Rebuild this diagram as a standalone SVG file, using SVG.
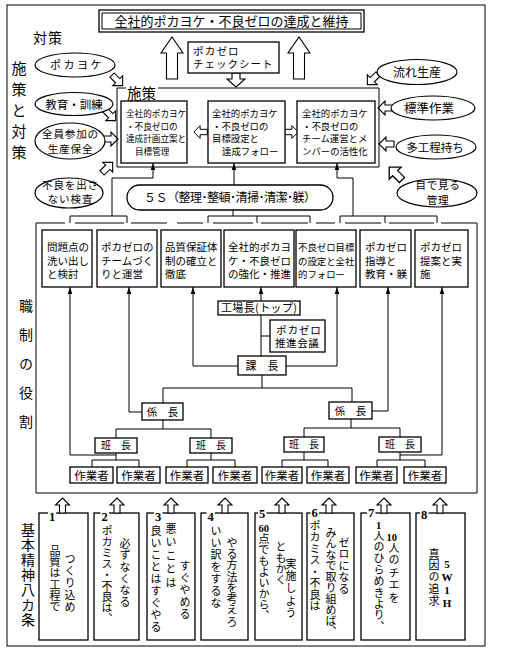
<svg xmlns="http://www.w3.org/2000/svg" xmlns:xlink="http://www.w3.org/1999/xlink" width="528" height="653" viewBox="0 0 528 653">
<style>
.t{font-family:"Noto Sans CJK JP","Noto Sans CJK SC",sans-serif;fill:#000}
.sf{font-family:"Liberation Serif","Noto Sans CJK JP",serif;fill:#000}
.v{writing-mode:vertical-rl}
.up{text-orientation:upright}
.bx{fill:#fff;stroke:#000;stroke-width:1.3}
.ov{fill:#fff;stroke:#000;stroke-width:1.2}
.ln{fill:none;stroke:#000;stroke-width:1}
.ha{fill:#fff;stroke:#000;stroke-width:1.1;stroke-linejoin:miter}
</style>
<defs>
<path id="ha" class="ha" d="M0,-8 L7,-1 L3,-1 L3,7 L-3,7 L-3,-1 L-7,-1 Z"/>
<path id="ua" class="ha" d="M0,0 L7,7 L3,7 L3,15 L-3,15 L-3,7 L-7,7 Z"/>
<path id="big" class="ha" d="M0,0 L11,16 L5.5,16 L5.5,42 L-5.5,42 L-5.5,16 L-11,16 Z"/>
<marker id="ah" markerUnits="userSpaceOnUse" markerWidth="8" markerHeight="6" viewBox="0 0 8 6" refX="7" refY="3" orient="auto"><path d="M0,0.7 L7,3 L0,5.3 Z" fill="#000"/></marker>
</defs>
<rect width="528" height="653" fill="#fff"/>
<!-- outer frame -->
<rect x="7" y="5" width="478" height="641" class="ln" stroke-width="1.2"/>
<!-- section labels -->
<text class="t" x="33" y="43" font-size="14" letter-spacing="1">対策</text>
<text class="t v" x="19" y="61" font-size="15" letter-spacing="6">施策と対策</text>
<text class="t v" x="26" y="299" font-size="14" letter-spacing="15">職制の役割</text>
<text class="t v" x="28" y="523" font-size="14" letter-spacing="1">基本精神八カ条</text>

<!-- connectors -->
<g id="connectors">
<path class="ln" d="M36,223 V493 H477 V223"/>
<path class="ln" d="M36,223 H65 M75,223 H124 M131,223 H167 M177,223 H203 M213,223 H253 M261,223 H308 M316,223 H335 M345,223 H381 M389,223 H434 M441,223 H477"/>
<path class="ln" d="M70,223 V216 H127 V223 M208,223 V216 H310 V223 M257,216 V223 M340,223 V216 H437 V223 M385,216 V223 M233,216 V210"/>
<path class="ln" d="M112,216 V178 H153 V163" marker-end="url(#ah)"/>
<path class="ln" d="M234,185 V163" marker-end="url(#ah)"/>
<path class="ln" d="M353,216 V178 H337 V163" marker-end="url(#ah)"/>
<path class="ln" d="M116,455 H70 V287" marker-end="url(#ah)"/>
<path class="ln" d="M142,412 H129 V287" marker-end="url(#ah)"/>
<path class="ln" d="M238,366 H193 V287" marker-end="url(#ah)"/>
<path class="ln" d="M261,301 V287" marker-end="url(#ah)"/>
<path class="ln" d="M286,366 H337 V287" marker-end="url(#ah)"/>
<path class="ln" d="M372,411 H388 V287" marker-end="url(#ah)"/>
<path class="ln" d="M400,455 H442 V287" marker-end="url(#ah)"/>
<path class="ln" d="M261,315 V356 M261,336 H270"/>
<path class="ln" d="M262,375 V388 M163,388 H352 M163,388 V403 M352,388 V402"/>
<path class="ln" d="M163,420 V429 M116,429 H211 M116,429 V438 M211,429 V438"/>
<path class="ln" d="M351,419 V428 M304,428 H400 M304,428 V437 M400,428 V437"/>
<path class="ln" d="M116,453 V460 M92,460 H139 M92,460 V467 M139,460 V467"/>
<path class="ln" d="M211,453 V460 M187,460 H235 M187,460 V467 M235,460 V467"/>
<path class="ln" d="M304,452 V460 M282,460 H328 M282,460 V467 M328,460 V467"/>
<path class="ln" d="M400,452 V460 M377,460 H425 M377,460 V467 M425,460 V467"/>
<!-- hollow arrows -->
<use href="#big" transform="translate(172,37)"/>
<use href="#big" transform="translate(299,37)"/>
<path class="ha" d="M232,73 H240 V79 H245 L236,87 L227,79 H232 Z"/>
<use href="#ha" transform="translate(117,80) rotate(135)"/>
<use href="#ha" transform="translate(110,115) rotate(135)"/>
<use href="#ha" transform="translate(110,139) rotate(90)"/>
<use href="#ha" transform="translate(107,168) rotate(45)"/>
<use href="#ha" transform="translate(373,79) rotate(225)"/>
<use href="#ha" transform="translate(386,108) rotate(270)"/>
<use href="#ha" transform="translate(387,144) rotate(270)"/>
<use href="#ha" transform="translate(396,174) rotate(315) scale(1.2)"/>
<use href="#ha" transform="translate(201,132) rotate(270) scale(0.9)"/>
<use href="#ha" transform="translate(291,132) rotate(90) scale(0.9)"/>
</g>

<!-- title -->
<g id="title">
<rect x="99" y="10" width="265" height="22" class="bx"/>
<rect x="102" y="13" width="259" height="16" class="ln"/>
<text class="t" x="231.5" y="26" font-size="13" text-anchor="middle">全社的ポカヨケ・不良ゼロの達成と維持</text>
</g>
<g id="checksheet">
<rect x="188" y="42" width="91" height="31" class="bx"/>
<text class="t" x="193" y="54.5" font-size="10.5" letter-spacing="1.2">ポカゼロ</text>
<text class="t" x="193" y="68" font-size="10.5" letter-spacing="1">チェックシート</text>
</g>

<!-- 施策 -->
<g id="shisaku">
<path class="ln" stroke-width="1.4" d="M126,88 H117 V167 H379 V88 H158"/>
<text class="t" x="127" y="99" font-size="14.5">施策</text>
</g>
<g id="planA">
<rect x="121" y="101" width="66" height="62" class="bx"/>
<text class="t" font-size="8.6"><tspan x="126" y="117">全社的ポカヨケ</tspan><tspan x="126" y="129.5">・不良ゼロの</tspan><tspan x="126" y="142">達成計画立案と</tspan><tspan x="135" y="154.5">目標管理</tspan></text>
</g>
<g id="planB">
<rect x="208" y="101" width="77" height="62" class="bx"/>
<text class="t" font-size="9.4"><tspan x="212" y="117">全社的ポカヨケ</tspan><tspan x="212" y="129.5">・不良ゼロの</tspan><tspan x="212" y="142">目標設定と</tspan><tspan x="222" y="154.5">達成フォロー</tspan></text>
</g>
<g id="planC">
<rect x="297" y="101" width="78" height="62" class="bx"/>
<text class="t" font-size="9.4"><tspan x="302" y="117">全社的ポカヨケ</tspan><tspan x="302" y="129.5">・不良ゼロの</tspan><tspan x="302" y="142">チーム運営とメ</tspan><tspan x="302" y="154.5">ンバーの活性化</tspan></text>
</g>

<!-- left ovals -->
<g id="o-pokayoke"><ellipse cx="75" cy="65" rx="40" ry="12" class="ov"/><text class="t" x="77" y="69" font-size="11" letter-spacing="2.5" text-anchor="middle">ポカヨケ</text></g>
<g id="o-kyoiku"><ellipse cx="74" cy="104" rx="39" ry="11.5" class="ov"/><text class="t" x="74" y="108.5" font-size="11.5" text-anchor="middle">教育・訓練</text></g>
<g id="o-hozen"><ellipse cx="70" cy="141" rx="35" ry="18" class="ov"/><text class="t" font-size="10.6" text-anchor="middle" letter-spacing="0.8"><tspan x="70.5" y="138">全員参加の</tspan><tspan x="70.5" y="153">生産保全</tspan></text></g>
<g id="o-kensa"><ellipse cx="69" cy="193" rx="34" ry="15" class="ov"/><text class="t" font-size="10.6" text-anchor="middle" letter-spacing="0.8"><tspan x="70.5" y="189">不良を出さ</tspan><tspan x="70.5" y="202.5">ない検査</tspan></text></g>
<!-- right ovals -->
<g id="o-nagare"><ellipse cx="417" cy="72" rx="40" ry="12.5" class="ov"/><text class="t" x="417" y="76.5" font-size="12" text-anchor="middle">流れ生産</text></g>
<g id="o-hyojun"><ellipse cx="433" cy="108" rx="42" ry="12" class="ov"/><text class="t" x="429" y="112.5" font-size="12.5" text-anchor="middle">標準作業</text></g>
<g id="o-takotei"><ellipse cx="436" cy="147" rx="40" ry="12" class="ov"/><text class="t" x="435" y="151.5" font-size="11.5" text-anchor="middle">多工程持ち</text></g>
<g id="o-mieru"><ellipse cx="437" cy="193" rx="40" ry="14" class="ov"/><text class="t" font-size="10.6" text-anchor="middle" letter-spacing="0.6"><tspan x="438" y="189">目で見る</tspan><tspan x="438" y="204">管理</tspan></text></g>

<g id="five-s">
<rect x="127" y="185" width="206" height="25" rx="12.5" class="bx"/>
<text class="t" x="144" y="202" font-size="12" textLength="172" lengthAdjust="spacing">５Ｓ（整理･整頓･清掃･清潔･躾）</text>
</g>

<!-- roles -->
<g id="role1"><rect x="42" y="230" width="50" height="57" class="bx" stroke-width="1.6"/><text class="t" font-size="10.5"><tspan x="47" y="251">問題点の</tspan><tspan x="47" y="264.5">洗い出し</tspan><tspan x="47" y="278">と検討</tspan></text></g>
<g id="role2"><rect x="97" y="230" width="60" height="57" class="bx" stroke-width="1.6"/><text class="t" font-size="10.5"><tspan x="101" y="251">ポカゼロの</tspan><tspan x="101" y="264.5">チームづく</tspan><tspan x="101" y="278">りと運営</tspan></text></g>
<g id="role3"><rect x="161" y="230" width="60" height="57" class="bx" stroke-width="1.6"/><text class="t" font-size="10.5"><tspan x="165" y="251">品質保証体</tspan><tspan x="165" y="264.5">制の確立と</tspan><tspan x="165" y="278">徹底</tspan></text></g>
<g id="role4"><rect x="224" y="230" width="70" height="57" class="bx" stroke-width="1.6"/><text class="t" font-size="10.5"><tspan x="228" y="251">全社的ポカヨ</tspan><tspan x="228" y="264.5">ケ・不良ゼロ</tspan><tspan x="228" y="278">の強化・推進</tspan></text></g>
<g id="role5"><rect x="296" y="230" width="60" height="57" class="bx" stroke-width="1.6"/><text class="t" font-size="9.4"><tspan x="298" y="251">不良ゼロ目標</tspan><tspan x="298" y="264.5">の設定と全社</tspan><tspan x="298" y="278">的フォロー</tspan></text></g>
<g id="role6"><rect x="360" y="230" width="51" height="57" class="bx" stroke-width="1.6"/><text class="t" font-size="10.5"><tspan x="365" y="251">ポカゼロ</tspan><tspan x="365" y="264.5">指導と</tspan><tspan x="365" y="278">教育・躾</tspan></text></g>
<g id="role7"><rect x="415" y="230" width="53" height="57" class="bx" stroke-width="1.6"/><text class="t" font-size="10.5"><tspan x="420" y="251">ポカゼロ</tspan><tspan x="420" y="264.5">提案と実</tspan><tspan x="420" y="278">施</tspan></text></g>

<!-- org chart -->
<g id="kojocho"><rect x="218" y="301" width="82" height="14" class="bx"/><text class="t" x="221" y="312.3" font-size="11" textLength="76" lengthAdjust="spacing">工場長(トップ)</text></g>
<g id="suishin"><rect x="270" y="320" width="55" height="32" class="bx"/><text class="t" font-size="10.6"><tspan x="276" y="333.5" letter-spacing="0.8">ポカゼロ</tspan><tspan x="275" y="347" letter-spacing="0.5">推進会議</tspan></text></g>
<g id="kacho"><rect x="238" y="356" width="48" height="19" class="bx"/><text class="t" x="262" y="369.5" font-size="11" text-anchor="middle">課　長</text></g>
<g id="kakaricho1"><rect x="142" y="403" width="41" height="17" class="bx"/><text class="t" x="162.5" y="415.5" font-size="10.5" text-anchor="middle">係　長</text></g>
<g id="kakaricho2"><rect x="329" y="402" width="43" height="17" class="bx"/><text class="t" x="350.5" y="414.5" font-size="10.5" text-anchor="middle">係　長</text></g>
<g id="hancho1"><rect x="95" y="438" width="42" height="15" class="bx"/><text class="t" x="116" y="449.3" font-size="10" text-anchor="middle">班　長</text></g>
<g id="hancho2"><rect x="190" y="438" width="42" height="15" class="bx"/><text class="t" x="211" y="449.3" font-size="10" text-anchor="middle">班　長</text></g>
<g id="hancho3"><rect x="284" y="437" width="40" height="15" class="bx"/><text class="t" x="304" y="448.3" font-size="10" text-anchor="middle">班　長</text></g>
<g id="hancho4"><rect x="379" y="437" width="42" height="15" class="bx"/><text class="t" x="400" y="448.3" font-size="10" text-anchor="middle">班　長</text></g>
<g id="worker1"><rect x="70" y="467" width="43" height="16" class="bx"/><text class="t" x="91.5" y="479.5" font-size="11.5" text-anchor="middle">作業者</text></g>
<g id="worker2"><rect x="117" y="467" width="43" height="16" class="bx"/><text class="t" x="138.5" y="479.5" font-size="11.5" text-anchor="middle">作業者</text></g>
<g id="worker3"><rect x="166" y="467" width="42" height="16" class="bx"/><text class="t" x="187" y="479.5" font-size="11.5" text-anchor="middle">作業者</text></g>
<g id="worker4"><rect x="213" y="467" width="44" height="16" class="bx"/><text class="t" x="235" y="479.5" font-size="11.5" text-anchor="middle">作業者</text></g>
<g id="worker5"><rect x="262" y="467" width="40" height="16" class="bx"/><text class="t" x="282" y="479.5" font-size="11.5" text-anchor="middle">作業者</text></g>
<g id="worker6"><rect x="307" y="467" width="42" height="16" class="bx"/><text class="t" x="328" y="479.5" font-size="11.5" text-anchor="middle">作業者</text></g>
<g id="worker7"><rect x="356" y="467" width="41" height="16" class="bx"/><text class="t" x="376.5" y="479.5" font-size="11.5" text-anchor="middle">作業者</text></g>
<g id="worker8"><rect x="404" y="467" width="42" height="16" class="bx"/><text class="t" x="425" y="479.5" font-size="11.5" text-anchor="middle">作業者</text></g>

<!-- basic spirit columns -->
<g id="p1"><rect x="39" y="513" width="49" height="127" class="bx"/><use href="#ua" transform="translate(62.5,498)"/><rect x="48" y="509" width="8" height="12" fill="#fff"/><text class="sf" x="49" y="521" font-size="12.5" font-weight="bold">1</text>
<text class="t v" x="55" y="545" font-size="11" letter-spacing="0.3">品質は工程で</text><text class="t v" x="70" y="553" font-size="11" letter-spacing="1">つくり込め</text></g>
<g id="p2"><rect x="94" y="513" width="45" height="127" class="bx"/><use href="#ua" transform="translate(117,498)"/><rect x="100.5" y="509" width="8.5" height="12" fill="#fff"/><text class="sf" x="101.5" y="521" font-size="12.5" font-weight="bold">2</text>
<text class="t v" x="107" y="525" font-size="11">ポカミス・不良は、</text><text class="t v" x="125" y="538" font-size="11" letter-spacing="0.7">必ずなくなる</text></g>
<g id="p3"><rect x="147" y="513" width="48" height="127" class="bx"/><use href="#ua" transform="translate(171,498)"/><rect x="154" y="509" width="8.5" height="12" fill="#fff"/><text class="sf" x="155" y="521" font-size="12.5" font-weight="bold">3</text>
<text class="t v" x="156" y="525" font-size="11" letter-spacing="1">良いことはすぐやる</text><text class="t v" x="171" y="523" font-size="11" letter-spacing="2.5">悪いことは</text><text class="t v" x="185" y="560" font-size="11" letter-spacing="1">すぐやめる</text></g>
<g id="p4"><rect x="201" y="513" width="47" height="127" class="bx"/><use href="#ua" transform="translate(225,498)"/><rect x="206.5" y="509" width="8.5" height="12" fill="#fff"/><text class="sf" x="207.5" y="521" font-size="12.5" font-weight="bold">4</text>
<text class="t v" x="216" y="525" font-size="11" letter-spacing="1">いい訳をするな</text><text class="t v" x="232" y="537" font-size="11" letter-spacing="0.3">やる方法を考えろ</text></g>
<g id="p5"><rect x="255" y="513" width="47" height="127" class="bx"/><use href="#ua" transform="translate(282,498)"/><rect x="258" y="507" width="8.5" height="12" fill="#fff"/><text class="sf" x="259" y="518" font-size="12.5" font-weight="bold">5</text>
<text class="sf" x="258.5" y="531.5" font-size="10.5" font-weight="bold">60</text><text class="t v" x="264" y="533" font-size="11" letter-spacing="0.1">点でもよいから、</text><text class="t v" x="281" y="541" font-size="11">ともかく</text><text class="t v" x="291" y="558" font-size="11" letter-spacing="1.4">実施しよう</text></g>
<g id="p6"><rect x="307" y="513" width="47" height="127" class="bx"/><use href="#ua" transform="translate(329,498)"/><rect x="310.5" y="506" width="8.5" height="12" fill="#fff"/><text class="sf" x="311.5" y="517" font-size="12.5" font-weight="bold">6</text>
<text class="t v" x="315" y="520" font-size="11" letter-spacing="0.5">ポカミス・不良は</text><text class="t v" x="331" y="527" font-size="11">みんなで取り組めば、</text><text class="t v" x="344" y="537" font-size="11" letter-spacing="0.6">ゼロになる</text></g>
<g id="p7"><rect x="361" y="513" width="49" height="127" class="bx"/><use href="#ua" transform="translate(384,498)"/><rect x="367" y="506" width="8.5" height="12" fill="#fff"/><text class="sf" x="368" y="517" font-size="12.5" font-weight="bold">7</text>
<text class="sf" x="376" y="529" font-size="10.5" font-weight="bold">1</text><text class="t v" x="379" y="530" font-size="11" letter-spacing="0.4">人のひらめきより、</text><text class="sf" x="386.5" y="541" font-size="10.5" font-weight="bold">10</text><text class="t v" x="394" y="542" font-size="11" letter-spacing="1.6">人のチエを</text></g>
<g id="p8"><rect x="416" y="513" width="49" height="127" class="bx"/><use href="#ua" transform="translate(440,498)"/><rect x="420" y="508" width="8.5" height="12" fill="#fff"/><text class="sf" x="421" y="519" font-size="12.5" font-weight="bold">8</text>
<text class="t v" x="434" y="548" font-size="11" letter-spacing="0.8">真因の追求</text><text class="sf v up" x="447" y="558" font-size="11" font-weight="bold" letter-spacing="1">5W1H</text></g>
</svg>
